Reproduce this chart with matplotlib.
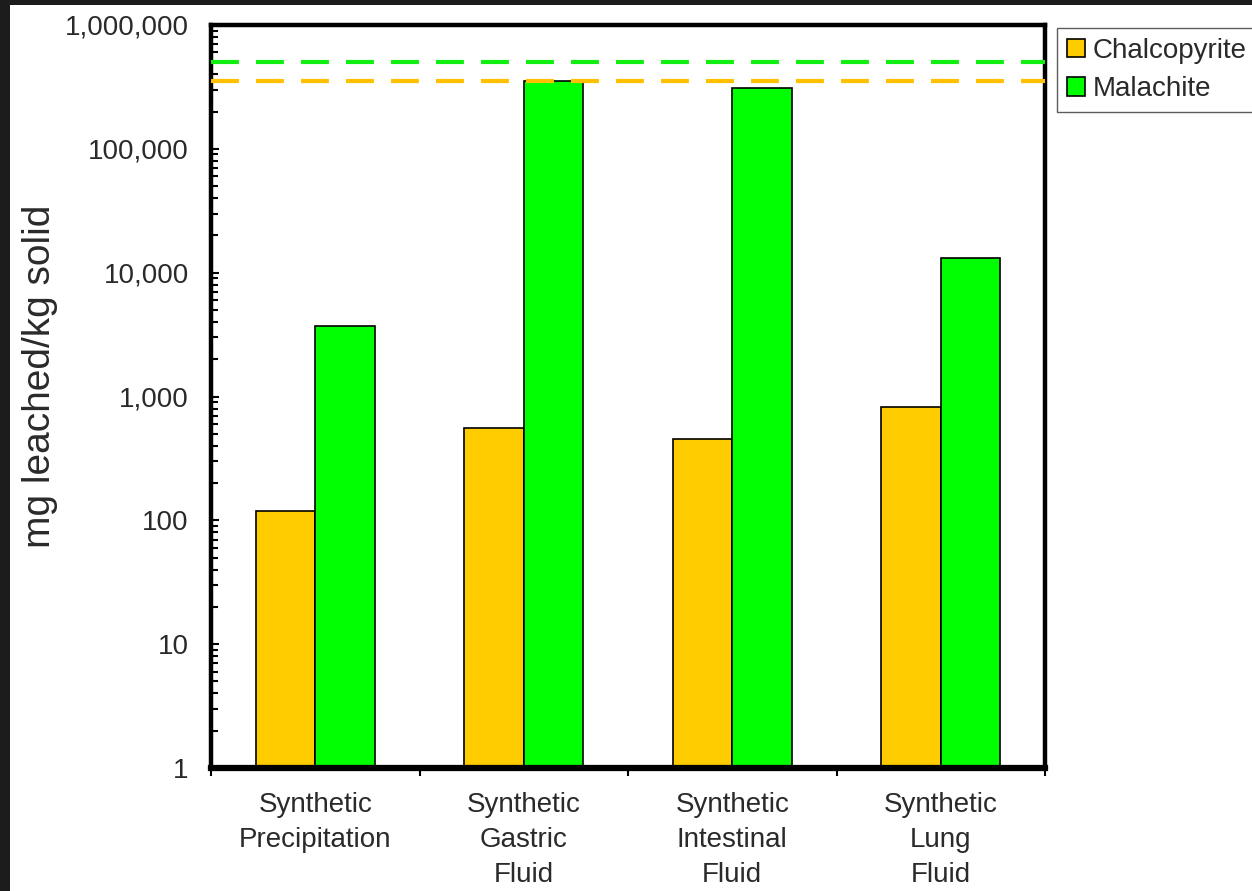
import matplotlib
matplotlib.use("Agg")
import matplotlib.pyplot as plt
from matplotlib.patches import Rectangle
from matplotlib.ticker import FuncFormatter, LogLocator, FixedLocator

plt.rcParams['font.family'] = ['Liberation Sans', 'DejaVu Sans']

categories = ["Synthetic\nPrecipitation", "Synthetic\nGastric\nFluid",
              "Synthetic\nIntestinal\nFluid", "Synthetic\nLung\nFluid"]
chalcopyrite = [120, 560, 455, 830]
malachite = [3700, 355000, 312000, 13200]
chalcopyrite_total = 350000
malachite_total = 500000
yticks = [1, 10, 100, 1000, 10000, 100000, 1000000]

ORANGE = '#ffcc00'
GREEN = '#00ff00'


def main():
    fig = plt.figure(figsize=(12.52, 8.91), dpi=100)
    fig.patch.set_facecolor('#1c1c1c')
    fig.patches.append(Rectangle((10 / 1252, 0), 1, (891 - 5) / 891,
                                 transform=fig.transFigure, facecolor='white',
                                 edgecolor='none', zorder=-10))

    ax = fig.add_axes([211 / 1252, 1 - 768 / 891, 834 / 1252, 743 / 891])
    ax.patch.set_alpha(0)
    x = list(range(len(categories)))
    w = 0.285
    ax.bar([i - w / 2 for i in x], chalcopyrite, w, color=ORANGE,
           edgecolor='black', linewidth=1.2, label='Chalcopyrite', zorder=2)
    ax.bar([i + w / 2 for i in x], malachite, w, color=GREEN,
           edgecolor='black', linewidth=1.2, label='Malachite', zorder=2)

    # reference totals (dashed)
    ax.axhline(malachite_total, color='#11ee11', lw=3, dashes=(6.7, 4.1), zorder=3)
    ax.axhline(chalcopyrite_total, color='#ffc000', lw=3, dashes=(6.7, 4.1), zorder=3)

    ax.set_yscale('log')
    ax.set_ylim(1, 1e6)
    ax.set_xlim(-0.5, len(categories) - 0.5)

    ax.yaxis.set_major_locator(FixedLocator(yticks))
    ax.yaxis.set_minor_locator(LogLocator(base=10, subs=range(2, 10), numticks=10))
    ax.yaxis.set_major_formatter(FuncFormatter(lambda v, p: f"{v:,.0f}"))
    ax.tick_params(axis='y', which='both', direction='in', width=1.5,
                   right=False, labelsize=20, labelcolor='#2a2a2a', pad=16)
    ax.tick_params(axis='y', which='major', length=6)
    ax.tick_params(axis='y', which='minor', length=5)

    ax.set_xticks(x)
    ax.set_xticklabels(categories, fontsize=20, color='#2a2a2a', linespacing=1.45)
    ax.xaxis.set_minor_locator(FixedLocator([i - 0.5 for i in range(len(categories) + 1)]))
    ax.tick_params(axis='x', which='major', length=0, pad=17)
    ax.tick_params(axis='x', which='minor', direction='out', length=6, width=1.5)

    for side in ['top', 'left', 'right']:
        ax.spines[side].set_linewidth(3.2)
    ax.spines['bottom'].set_linewidth(4.5)

    ax.set_ylabel("mg leached/kg solid", fontsize=28, color='#2a2a2a')
    ax.yaxis.set_label_coords(-0.183, 0.527)

    handles, labels = ax.get_legend_handles_labels()
    fig.legend(handles, labels, loc='upper left',
               bbox_to_anchor=(1057 / 1252, 1 - 28 / 891), fontsize=20,
               frameon=True, fancybox=False, edgecolor='#333333',
               handlelength=0.65, handleheight=0.65, handletextpad=0.3,
               borderpad=0.35, labelspacing=0.45, borderaxespad=0,
               labelcolor='#2a2a2a')

    fig.savefig('out.png', dpi=100, facecolor=fig.get_facecolor())


if __name__ == '__main__':
    main()
